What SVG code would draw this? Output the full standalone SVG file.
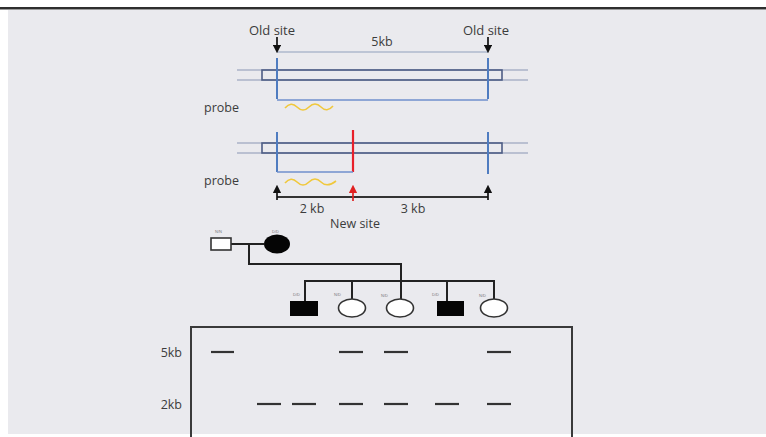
<svg xmlns="http://www.w3.org/2000/svg" width="766" height="437" viewBox="0 0 766 437">
<defs>
<style>
.t{font-family:"Open Sans","Liberation Sans",sans-serif;fill:#3c3c3c}
.dna{stroke:#8a96b4;stroke-width:1.2;fill:none}
.box{stroke:#4e5d85;stroke-width:1.6;fill:none}
.cut{stroke:#4f7cc0;stroke-width:2;fill:none}
.brk{stroke:#6f8fcc;stroke-width:1.6;fill:none}
.probe{stroke:#f0c83c;stroke-width:1.6;fill:none}
.ped{stroke:#222;stroke-width:2;fill:none}
.band{stroke:#333;stroke-width:2.2}
.tiny{font-family:"Liberation Sans",sans-serif;font-size:4px;fill:#777}
</style>
<marker id="ahB" viewBox="0 0 10 10" refX="5" refY="5" markerWidth="5" markerHeight="5" orient="auto-start-reverse">
<path d="M0,0 L10,5 L0,10 z" fill="#111"/>
</marker>
<marker id="ahR" viewBox="0 0 10 10" refX="5" refY="5" markerWidth="5" markerHeight="5" orient="auto-start-reverse">
<path d="M0,0 L10,5 L0,10 z" fill="#e02020"/>
</marker>
</defs>
<rect x="0" y="0" width="766" height="437" fill="#ffffff"/>
<rect x="8" y="10" width="758" height="424" fill="#eaeaee"/>
<rect x="0" y="7" width="766" height="2" fill="#2e2e2e"/>
<rect x="0" y="9" width="766" height="1" fill="#9a9a9a"/>

<g id="map-old">
<text class="t" x="272" y="35" font-size="13" text-anchor="middle">Old site</text>
<text class="t" x="486" y="35" font-size="13" text-anchor="middle">Old site</text>
<text class="t" x="382" y="46" font-size="12.5" text-anchor="middle">5kb</text>
<line x1="277" y1="52" x2="488" y2="52" stroke="#aeb8cc" stroke-width="1.5"/>
<line x1="277" y1="37" x2="277" y2="49" stroke="#111" stroke-width="1.7" marker-end="url(#ahB)"/>
<line x1="488" y1="37" x2="488" y2="49" stroke="#111" stroke-width="1.7" marker-end="url(#ahB)"/>
<line class="dna" x1="237" y1="70" x2="528" y2="70"/>
<line class="dna" x1="237" y1="80" x2="528" y2="80"/>
<rect class="box" x="262" y="70" width="240" height="10"/>
<line class="cut" x1="277" y1="58" x2="277" y2="99"/>
<line class="cut" x1="488" y1="58" x2="488" y2="99"/>
<line class="brk" x1="277" y1="100" x2="488" y2="100"/>
<text class="t" x="204" y="112" font-size="12.5">probe</text>
<path class="probe" d="M285,108 Q291,101 297,107 T309,107 T321,107 T333,106"/>
</g>

<g id="map-new">
<line class="dna" x1="237" y1="143" x2="528" y2="143"/>
<line class="dna" x1="237" y1="153" x2="528" y2="153"/>
<rect class="box" x="262" y="143" width="240" height="10"/>
<line class="cut" x1="277" y1="132" x2="277" y2="172"/>
<line class="cut" x1="488" y1="132" x2="488" y2="174"/>
<line x1="353" y1="130" x2="353" y2="172" stroke="#e8202a" stroke-width="2.2"/>
<line class="brk" x1="277" y1="172" x2="353" y2="172"/>
<text class="t" x="204" y="185" font-size="12.5">probe</text>
<path class="probe" d="M285,183 Q291,176 297,182 T309,182 T321,182 T336,181"/>
<line x1="277" y1="197" x2="488" y2="197" stroke="#333" stroke-width="2"/>
<line x1="277" y1="200" x2="277" y2="189" stroke="#111" stroke-width="1.7" marker-end="url(#ahB)"/>
<line x1="488" y1="200" x2="488" y2="189" stroke="#111" stroke-width="1.7" marker-end="url(#ahB)"/>
<line x1="353" y1="201" x2="353" y2="189" stroke="#e02020" stroke-width="1.7" marker-end="url(#ahR)"/>
<text class="t" x="312" y="213" font-size="12.5" text-anchor="middle">2 kb</text>
<text class="t" x="413" y="213" font-size="12.5" text-anchor="middle">3 kb</text>
<text class="t" x="355" y="228" font-size="12.5" text-anchor="middle">New site</text>
</g>

<g id="connectors">
<path class="ped" d="M231,244 L264,244"/>
<path class="ped" d="M249,244 L249,264 L401,264 L401,300"/>
<path class="ped" d="M305,301 L305,281 L494,281 L494,299"/>
<path class="ped" d="M352,281 L352,299"/>
<path class="ped" d="M447,281 L447,301"/>
</g>

<g id="father">
<rect x="211" y="238" width="20" height="12" fill="#fff" stroke="#333" stroke-width="1.6"/>
<text class="tiny" x="215" y="233">N/N</text>
</g>
<g id="mother">
<ellipse cx="277" cy="244" rx="13" ry="9.5" fill="#050505"/>
<text class="tiny" x="272" y="233">D/D</text>
</g>
<g id="child1">
<rect x="290" y="301" width="28" height="15" fill="#050505"/>
<text class="tiny" x="293" y="296">D/D</text>
</g>
<g id="child2">
<ellipse cx="352" cy="308" rx="13.5" ry="9" fill="#fff" stroke="#333" stroke-width="1.6"/>
<text class="tiny" x="334" y="296">N/D</text>
</g>
<g id="child3">
<ellipse cx="400" cy="308" rx="13.5" ry="9" fill="#fff" stroke="#333" stroke-width="1.6"/>
<text class="tiny" x="381" y="297">N/D</text>
</g>
<g id="child4">
<rect x="437" y="301" width="27" height="15" fill="#050505"/>
<text class="tiny" x="432" y="296">D/D</text>
</g>
<g id="child5">
<ellipse cx="494" cy="308" rx="13.5" ry="9" fill="#fff" stroke="#333" stroke-width="1.6"/>
<text class="tiny" x="479" y="297">N/D</text>
</g>

<g id="gel">
<rect x="191" y="327" width="381" height="120" fill="none" stroke="#3a3a3a" stroke-width="2"/>
<text class="t" x="182" y="357" font-size="12.5" text-anchor="end">5kb</text>
<text class="t" x="182" y="409" font-size="12.5" text-anchor="end">2kb</text>
<line class="band" x1="211" y1="352" x2="234" y2="352"/>
<line class="band" x1="339" y1="352" x2="363" y2="352"/>
<line class="band" x1="384" y1="352" x2="408" y2="352"/>
<line class="band" x1="487" y1="352" x2="511" y2="352"/>
<line class="band" x1="257" y1="404" x2="281" y2="404"/>
<line class="band" x1="292" y1="404" x2="316" y2="404"/>
<line class="band" x1="339" y1="404" x2="363" y2="404"/>
<line class="band" x1="384" y1="404" x2="408" y2="404"/>
<line class="band" x1="435" y1="404" x2="459" y2="404"/>
<line class="band" x1="487" y1="404" x2="511" y2="404"/>
</g>
</svg>
